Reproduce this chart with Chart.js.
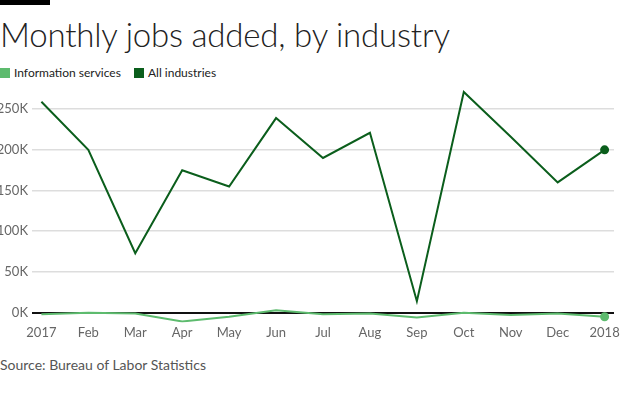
<!DOCTYPE html>
<html>
<head>
<meta charset="utf-8">
<script src="https://cdn.jsdelivr.net/npm/chart.js@4/dist/chart.umd.min.js"></script>
<style>
    body { margin: 0; width: 620px; height: 396px; background: #fff; font-family: Lato, "Open Sans", sans-serif; position: relative; overflow: hidden; }
    .bar { position: absolute; left: 0; top: 0; width: 50px; height: 5px; background: #000; }
    h1 { position: absolute; left: 0; top: 14px; margin: 0; font-size: 33px; font-weight: 300; color: #222; letter-spacing: -0.2px; }
    .legend { position: absolute; left: 0; top: 65px; font-size: 12px; color: #222; }
    .legend span.sw { display: inline-block; width: 10px; height: 10px; vertical-align: -1px; margin-right: 4px; }
    .legend span.item { margin-right: 10px; }
    .source { position: absolute; left: 0; top: 356px; font-size: 14px; color: #555; }
    #wrap { position: absolute; left: 0; top: 77px; width: 620px; height: 275px; }
</style>
</head>
<body>
<div class="bar"></div>
<h1>Monthly jobs added, by industry</h1>
<div class="legend">
    <span class="item"><span class="sw" style="background:#5dbb6e"></span>Information services</span>
    <span class="item"><span class="sw" style="background:#0b5e1c"></span>All industries</span>
</div>
<div id="wrap"><canvas id="chart"></canvas></div>
<div class="source">Source: Bureau of Labor Statistics</div>
<script>
// Data (thousands of jobs)
const months = ['2017', 'Feb', 'Mar', 'Apr', 'May', 'Jun', 'Jul', 'Aug', 'Sep', 'Oct', 'Nov', 'Dec', '2018'];
const allIndustries = [259, 200, 73, 175, 155, 239, 190, 221, 14, 271, 216, 160, 200];
const infoServices = [-2, 0, -1, -11, -5, 3, -2, -1, -6, 0, -3, -1, -5];
const yTicks = [0, 50, 100, 150, 200, 250];

const darkGreen = '#0b5e1c';
const lightGreen = '#5dbb6e';

function toPoints(arr) {
    return arr.map((v, i) => ({ x: i, y: v }));
}
function lastOnly(n, r) {
    return ctx => ctx.dataIndex === n - 1 ? r : 0;
}

const ctx = document.getElementById('chart').getContext('2d');
new Chart(ctx, {
    type: 'line',
    data: {
        datasets: [{
            label: 'All industries',
            data: toPoints(allIndustries),
            borderColor: darkGreen,
            backgroundColor: darkGreen,
            borderWidth: 2,
            pointRadius: lastOnly(allIndustries.length, 3.5),
            tension: 0
        }, {
            label: 'Information services',
            data: toPoints(infoServices),
            borderColor: lightGreen,
            backgroundColor: lightGreen,
            borderWidth: 2,
            pointRadius: lastOnly(infoServices.length, 3.5),
            tension: 0
        }]
    },
    options: {
        responsive: true,
        maintainAspectRatio: false,
        animation: false,
        layout: { padding: { top: 6, right: 0, left: 0, bottom: 8 } },
        plugins: { legend: { display: false }, tooltip: { enabled: false } },
        scales: {
            x: {
                type: 'linear',
                min: -0.2,
                max: 12.2,
                afterBuildTicks: axis => { axis.ticks = months.map((m, i) => ({ value: i })); },
                afterFit: axis => { axis.paddingLeft = 0; axis.paddingRight = 0; },
                ticks: {
                    autoSkip: false,
                    maxRotation: 0,
                    padding: 3,
                    color: '#666',
                    font: { size: 13, family: 'Lato' },
                    callback: v => months[v]
                },
                grid: { display: false, drawTicks: false },
                border: { display: false }
            },
            y: {
                min: -12,
                max: 275,
                afterBuildTicks: axis => { axis.ticks = yTicks.map(v => ({ value: v })); },
                afterFit: axis => { axis.width = 32; },
                ticks: {
                    padding: 4,
                    color: '#666',
                    font: { size: 13, family: 'Lato' },
                    callback: v => v + 'K'
                },
                grid: {
                    drawTicks: false,
                    color: c => c.tick && c.tick.value === 0 ? '#111' : '#ddd',
                    lineWidth: c => c.tick && c.tick.value === 0 ? 2 : 1.5
                },
                border: { display: false }
            }
        }
    }
});
</script>
</body>
</html>
